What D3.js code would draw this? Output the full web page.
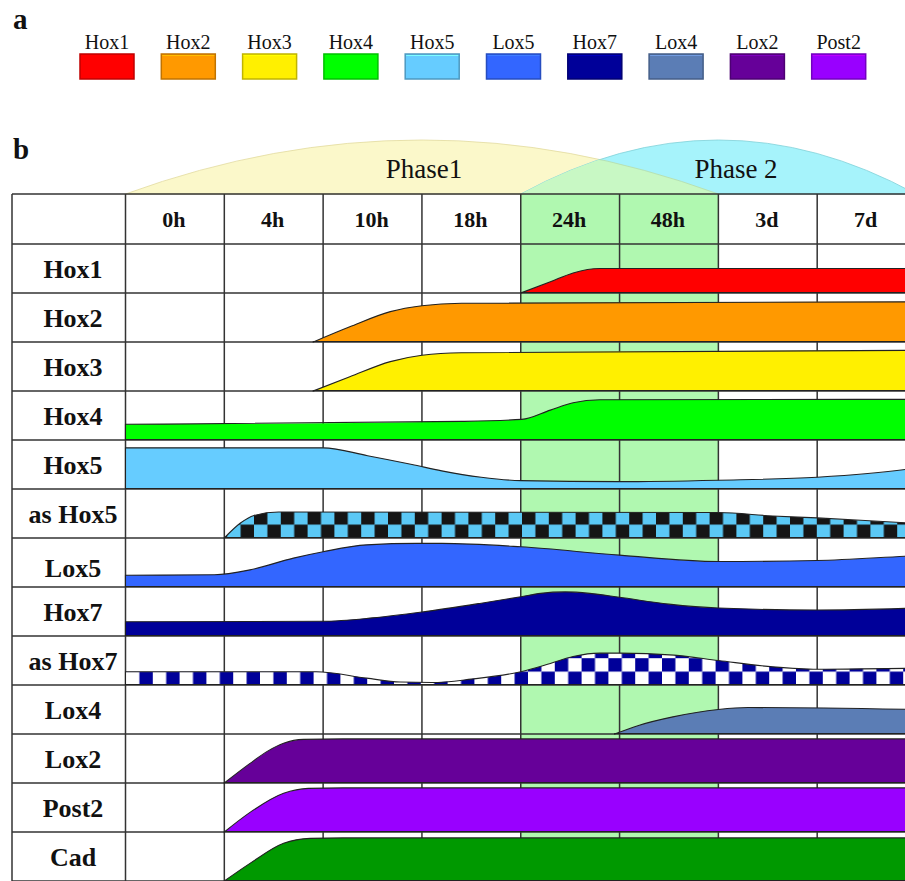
<!DOCTYPE html>
<html>
<head>
<meta charset="utf-8">
<script src="https://cdn.jsdelivr.net/npm/d3@7"></script>
<style>
  body { margin: 0; background: #fff; }
  text { font-family: "Liberation Serif", "Times New Roman", serif; fill: #111; }
</style>
</head>
<body>
<svg width="905" height="881"></svg>
<script>
const times = ['0h', '4h', '10h', '18h', '24h', '48h', '3d', '7d'];
const rowGenes = ['Hox1', 'Hox2', 'Hox3', 'Hox4', 'Hox5', 'as Hox5', 'Lox5', 'Hox7', 'as Hox7', 'Lox4', 'Lox2', 'Post2', 'Cad'];
const legendGenes = ['Hox1', 'Hox2', 'Hox3', 'Hox4', 'Hox5', 'Lox5', 'Hox7', 'Lox4', 'Lox2', 'Post2'];
const legendColors = ['#ff0000', '#ff9900', '#fff000', '#00ff00', '#66ccff', '#3366ff', '#000099', '#5b7db5', '#660099', '#9900ff'];
const rowColors = ['#ff0000', '#ff9900', '#fff000', '#00ff00', '#66ccff', 'url(#checkHox5)', '#3366ff', '#000099', 'url(#checkHox7)', '#5b7db5', '#660099', '#9900ff', '#009900'];
// phase name, first column, last column
const phases = [['Phase1', 0, 6], ['Phase 2', 4, 8]];
const highlightCols = [4, 6];

// expression: [position in columns from 0h, level as share of row height]
const hox1 = [[4, 0], [4.3, 0.23], [4.53, 0.41], [4.8, 0.5], [8, 0.5]];
const hox2 = [[1.9, 0], [2.27, 0.31], [2.68, 0.62], [3.0, 0.74], [3.4, 0.79], [8, 0.82]];
const hox3 = [[1.9, 0], [2.27, 0.29], [2.68, 0.6], [3.0, 0.73], [3.4, 0.78], [8, 0.83]];
const hox4 = [[0, 0.32], [3.4, 0.38], [4.01, 0.42], [4.3, 0.61], [4.53, 0.76], [4.8, 0.82], [8, 0.83]];
const hox5 = [[0, 0.84], [2, 0.84], [2.45, 0.68], [2.9, 0.5], [3.2, 0.37], [3.6, 0.24], [4, 0.17], [5, 0.15], [6, 0.18], [7, 0.24], [7.9, 0.4], [8, 0.43]];
const asHox5 = [[1, 0], [1.16, 0.3], [1.3, 0.46], [1.55, 0.53], [6, 0.52], [6.55, 0.45], [7, 0.41], [7.9, 0.31], [8, 0.3]];
const lox5 = [[0, 0.24], [0.9, 0.25], [1.26, 0.35], [1.7, 0.59], [2, 0.72], [2.44, 0.86], [2.95, 0.89], [3.2, 0.89], [4, 0.82], [5, 0.65], [6, 0.52], [7, 0.54], [7.9, 0.63], [8, 0.64]];
const hox7 = [[0, 0.29], [2, 0.3], [2.5, 0.37], [3, 0.49], [3.6, 0.67], [4, 0.8], [4.2, 0.87], [4.45, 0.9], [4.7, 0.87], [5, 0.79], [5.5, 0.65], [6, 0.57], [7, 0.53], [8, 0.57]];
const asHox7 = [[0, 0.27], [1.93, 0.27], [2.44, 0.14], [2.78, 0.06], [3.1, 0.05], [3.5, 0.12], [4, 0.27], [4.3, 0.44], [4.53, 0.58], [4.8, 0.65], [5, 0.65], [5.55, 0.61], [6, 0.5], [6.55, 0.37], [7, 0.32], [7.9, 0.34], [8, 0.34]];
const lox4 = [[4.95, 0], [5.2, 0.18], [5.54, 0.35], [6, 0.5], [6.3, 0.54], [8, 0.5]];
const lox2 = [[1, 0], [1.26, 0.4], [1.43, 0.64], [1.6, 0.81], [1.8, 0.89], [2.2, 0.9], [8, 0.9]];
const post2 = [[1, 0], [1.26, 0.4], [1.6, 0.79], [1.85, 0.89], [2.2, 0.9], [8, 0.9]];
const cad = [[1, 0], [1.26, 0.36], [1.6, 0.77], [1.87, 0.87], [2.2, 0.88], [8, 0.88]];
const profiles = [hox1, hox2, hox3, hox4, hox5, asHox5, lox5, hox7, asHox7, lox4, lox2, post2, cad];

const svg = d3.select('svg');
const defs = svg.append('defs');

const tableLeft = 12, tableTop = 194, headBottom = 244, rowH = 49;
const x = d3.scaleLinear().domain([0, times.length]).range([125.5, 916]);
const rowY = d3.scaleBand().domain(rowGenes).range([headBottom, headBottom + rowH * rowGenes.length]);
const tableBottom = headBottom + rowH * rowGenes.length;

// checker patterns for antisense rows
function checker(id, c1, c2, originX, rowBottom) {
    const s = 13.4;
    const p = defs.append('pattern').attr('id', id)
        .attr('patternUnits', 'userSpaceOnUse')
        .attr('width', 2 * s).attr('height', 2 * s)
        .attr('x', originX).attr('y', rowBottom);
    p.append('rect').attr('width', 2 * s).attr('height', 2 * s).attr('fill', c2);
    p.append('rect').attr('width', s).attr('height', s).attr('fill', c1);
    p.append('rect').attr('x', s).attr('y', s).attr('width', s).attr('height', s).attr('fill', c1);
}
checker('checkHox5', '#151515', '#5bc8f5', 120, rowY('as Hox5') + rowH);
checker('checkHox7', '#000099', '#ffffff', 126, rowY('as Hox7') + rowH);

// phase arcs
const phasePath = (a, b) => {
    const p = d3.path();
    p.moveTo(x(a), tableTop);
    p.quadraticCurveTo((x(a) + x(b)) / 2, tableTop - 108, x(b), tableTop);
    p.closePath();
    return p.toString();
};
defs.append('clipPath').attr('id', 'phase2clip')
    .append('path').attr('d', phasePath(phases[1][1], phases[1][2]));

svg.append('path').attr('d', phasePath(phases[0][1], phases[0][2]))
    .attr('fill', '#fbf8ca').attr('stroke', '#e2dba0').attr('stroke-width', 0.8);
svg.append('path').attr('d', phasePath(phases[1][1], phases[1][2]))
    .attr('fill', '#a6f3fb').attr('stroke', '#7fd0d8').attr('stroke-width', 0.8);
svg.append('path').attr('d', phasePath(phases[0][1], phases[0][2]))
    .attr('clip-path', 'url(#phase2clip)')
    .attr('fill', '#c8f8c4').attr('stroke', '#b6dca8').attr('stroke-width', 0.8);

svg.selectAll('.phase-label').data(phases).join('text')
    .attr('x', (d, i) => i === 0 ? 424 : 736)
    .attr('y', 178)
    .attr('text-anchor', 'middle')
    .attr('font-size', 27)
    .text(d => d[0]);

// highlighted columns
svg.append('rect')
    .attr('x', x(highlightCols[0])).attr('y', tableTop)
    .attr('width', x(highlightCols[1]) - x(highlightCols[0]))
    .attr('height', tableBottom - tableTop)
    .attr('fill', '#b0f8b0');

// grid
const grid = svg.append('g').attr('stroke', '#333').attr('stroke-width', 1.5);
const hLines = [tableTop, headBottom].concat(rowGenes.map(g => rowY(g) + rowH));
grid.selectAll('.h').data(hLines).join('line')
    .attr('x1', tableLeft).attr('x2', 905)
    .attr('y1', d => d).attr('y2', d => d);
const vLines = [tableLeft].concat(d3.range(times.length + 1).map(i => x(i)));
grid.selectAll('.v').data(vLines).join('line')
    .attr('x1', d => d).attr('x2', d => d)
    .attr('y1', tableTop).attr('y2', tableBottom);

// header
svg.selectAll('.time').data(times).join('text')
    .attr('x', (d, i) => x(i + 0.5) - 1)
    .attr('y', (tableTop + headBottom) / 2 + 8)
    .attr('text-anchor', 'middle')
    .attr('font-size', 22).attr('font-weight', 'bold')
    .text(d => d);

// row labels
svg.selectAll('.gene').data(rowGenes).join('text')
    .attr('x', 73)
    .attr('y', d => rowY(d) + rowH / 2 + (d === 'Lox5' ? 14 : 9))
    .attr('text-anchor', 'middle')
    .attr('font-size', 26).attr('font-weight', 'bold')
    .text(d => d);

// expression bands
rowGenes.forEach((g, i) => {
    const bottom = rowY(g) + rowH;
    const level = d3.scaleLinear().domain([0, 1]).range([bottom, rowY(g)]);
    const area = d3.area()
        .x(d => x(d[0]))
        .y0(bottom - 0.5)
        .y1(d => level(d[1]))
        .curve(d3.curveMonotoneX);
    svg.append('path').datum(profiles[i])
        .attr('d', area)
        .attr('fill', rowColors[i])
        .attr('stroke', '#222').attr('stroke-width', 1.1);
});

// panel letters
svg.append('text').attr('x', 13).attr('y', 29).attr('font-size', 29).attr('font-weight', 'bold').text('a');
svg.append('text').attr('x', 13).attr('y', 159).attr('font-size', 29).attr('font-weight', 'bold').text('b');

// legend
const leg = svg.selectAll('.leg').data(legendGenes).join('g')
    .attr('transform', (d, i) => `translate(${80 + i * 81.3},0)`);
leg.append('rect')
    .attr('x', 0).attr('y', 54).attr('width', 54).attr('height', 25)
    .attr('fill', (d, i) => legendColors[i])
    .attr('stroke', (d, i) => d3.color(legendColors[i]).darker(0.8))
    .attr('stroke-width', 1.5);
leg.append('line')
    .attr('x1', 1).attr('x2', 53).attr('y1', 55.5).attr('y2', 55.5)
    .attr('stroke', (d, i) => d3.color(legendColors[i]).brighter(0.6)).attr('stroke-width', 1);
leg.append('text')
    .attr('x', 27).attr('y', 49)
    .attr('text-anchor', 'middle')
    .attr('font-size', 20)
    .text(d => d);
</script>
</body>
</html>
